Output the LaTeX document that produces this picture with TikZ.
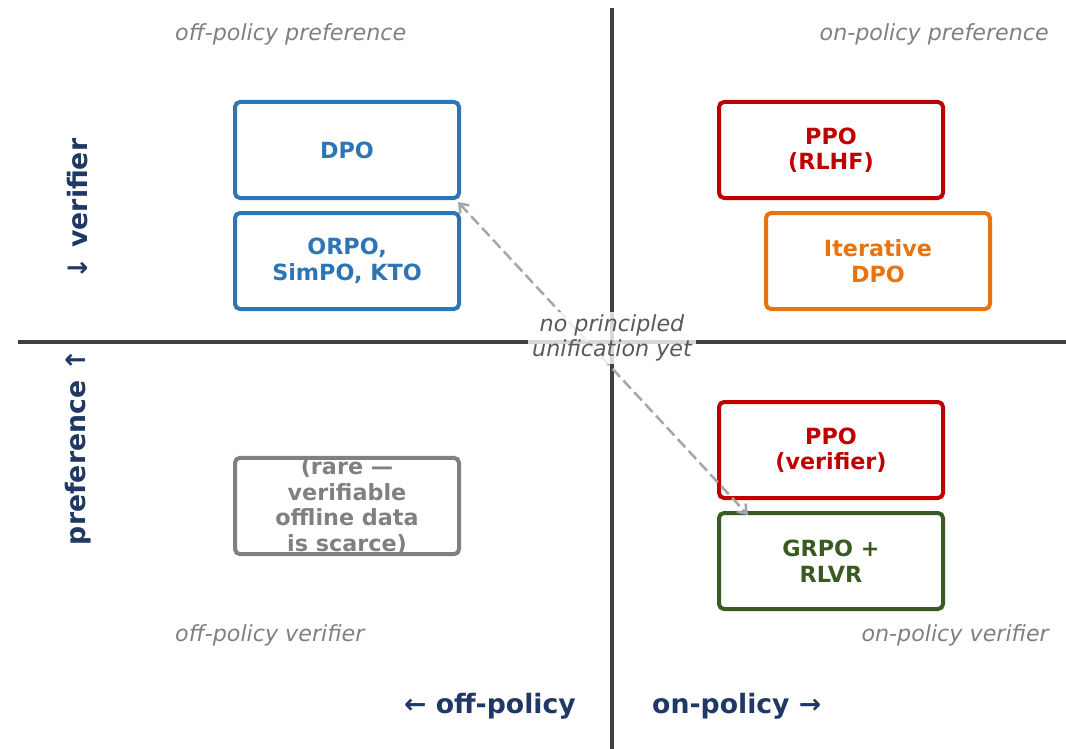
\documentclass[tikz,border=0pt]{standalone}
\usepackage{fontspec}
\setmainfont{DejaVu Sans}
\usetikzlibrary{arrows.meta}
\definecolor{blueC}{HTML}{2E75B6}
\definecolor{redC}{HTML}{C00000}
\definecolor{orangeC}{HTML}{E8730F}
\definecolor{greenC}{HTML}{3B5A23}
\definecolor{greyC}{HTML}{808080}
\definecolor{navyC}{HTML}{1F3864}
\definecolor{axisC}{HTML}{404040}
\definecolor{arrowC}{HTML}{A6A6A6}
\definecolor{noteC}{HTML}{595959}
\tikzset{
  algbox/.style={draw=#1, text=#1, line width=4pt, rounded corners=5pt,
    minimum width=224pt, minimum height=96pt, inner sep=0pt, outer sep=0pt,
    align=center, font=\fontsize{22.3}{25.5}\selectfont\bfseries},
  cornerlab/.style={text=greyC, inner sep=0pt, font=\fontsize{22.2}{26}\selectfont\itshape},
  axislab/.style={text=navyC, inner sep=0pt, font=\fontsize{26.7}{30}\selectfont\bfseries},
  axisline/.style={draw=axisC, line width=3.5pt},
  linkarrow/.style={draw=arrowC, line width=2.5pt, dash pattern=on 11pt off 5pt,
    {Straight Barb[length=8pt,width=12pt]}-{Straight Barb[length=8pt,width=12pt]}},
}
\begin{document}
\begin{tikzpicture}[x=1pt,y=-1pt]
\useasboundingbox (0,0) rectangle (1066,749);
% axes
\coordinate (vtop) at (612,8);
\coordinate (vbot) at (612,749);
\coordinate (hleft) at (18,342);
\coordinate (hright) at (1066,342);
\draw[axisline] (vtop) -- (vbot);
\draw[axisline] (hleft) -- (hright);
% boxes
\node[algbox=blueC] (dpo) at (347,150) {DPO};
\node[algbox=blueC] (orpo) at (347,261) {ORPO,\\SimPO, KTO};
\node[algbox=redC] (ppor) at (831,150) {PPO\\(RLHF)};
\node[algbox=orangeC] (idpo) at (878,261) {Iterative\\DPO};
\node[algbox=redC] (ppov) at (831,450) {PPO\\(verifier)};
\node[algbox=greenC] (grpo) at (831,561) {GRPO +\\RLVR};
\node[algbox=greyC] (rare) at (347,506) {(rare —\\verifiable\\offline data\\is scarce)};
% corner labels
\node[cornerlab, anchor=west] (offpref) at (175,34) {off-policy preference};
\node[cornerlab, anchor=east] (onpref) at (1049,34) {on-policy preference};
\node[cornerlab, anchor=west] (offver) at (175,635) {off-policy verifier};
\node[cornerlab, anchor=east] (onver) at (1049,635) {on-policy verifier};
% axis labels
\node[axislab, anchor=east] (offpol) at (576,706) {← off-policy};
\node[axislab, anchor=west] (onpol) at (652,706) {on-policy →};
\node[axislab, rotate=90] (verlab) at (78,209) {↓ verifier};
\node[axislab, rotate=90] (preflab) at (78,447) {preference ↑};
% link arrow
\coordinate (linkA) at (458,202);
\coordinate (linkB) at (748,515);
\draw[linkarrow] (linkA) -- (linkB);
\node[fill=white, fill opacity=0.8, text opacity=1, text=noteC, align=center,
  inner xsep=4pt, inner ysep=3pt,
  font=\fontsize{22.2}{25.5}\selectfont\itshape] (note) at (612,338) {no principled\\unification yet};
\end{tikzpicture}
\end{document}
